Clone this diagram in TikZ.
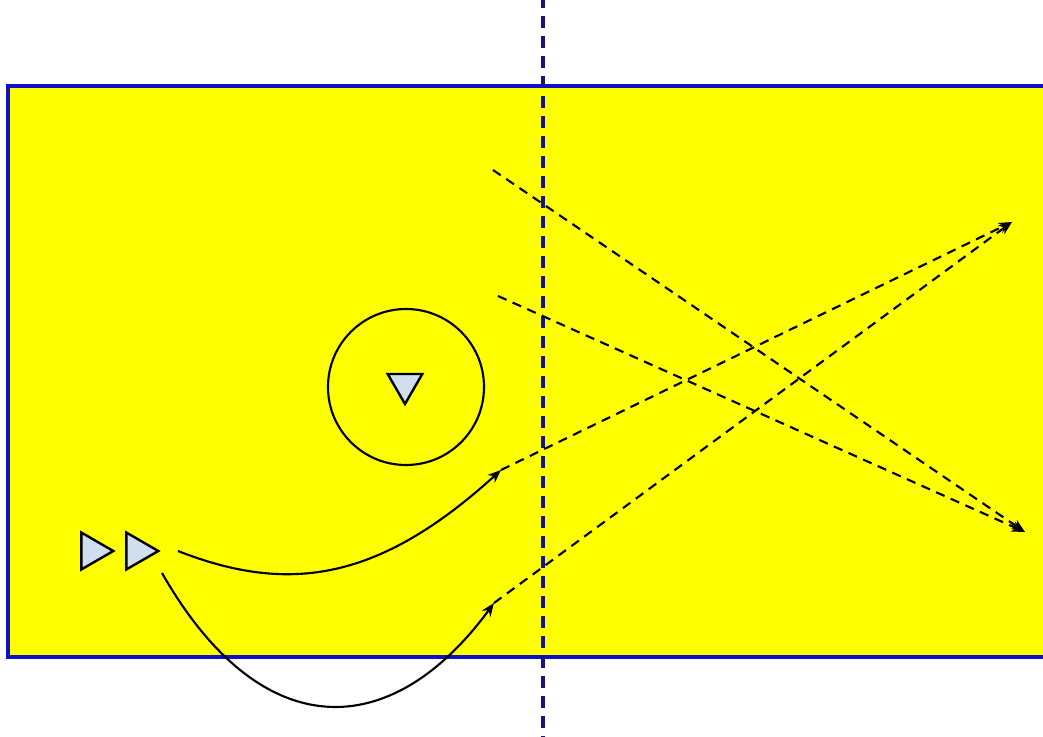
\documentclass[tikz,border=0pt]{standalone}
\usetikzlibrary{shapes.geometric,arrows.meta}
\definecolor{fieldyellow}{RGB}{255,255,0}
\definecolor{fieldblue}{RGB}{16,16,200}
\definecolor{navyline}{RGB}{20,20,130}
\definecolor{tribluefill}{RGB}{208,222,238}
\tikzset{
  player/.style={regular polygon, regular polygon sides=3, draw=black, line width=1.8pt,
    fill=tribluefill, minimum size=32pt, inner sep=0pt},
  run/.style={draw=black, line width=1.6pt, -{Stealth[length=10pt,width=8pt]}},
  pass/.style={draw=black, line width=1.6pt, dash pattern=on 7pt off 5pt, -{Stealth[length=10pt,width=8pt]}},
}
\begin{document}
\begin{tikzpicture}[x=0.75pt,y=-0.75pt]
\clip (0,0) rectangle (1043,736);
\useasboundingbox (0,0) rectangle (1043,736);
\fill[white] (0,0) rectangle (1043,736);
% field
\draw[fill=fieldyellow, draw=fieldblue, line width=3pt] (8,86) rectangle (1070,657);
% centre line
\draw[navyline, line width=2.6pt, dash pattern=on 9pt off 6pt] (543,-4) -- (543,740);
% players
\node[player, shape border rotate=-90] (p1) at (92,551) {};
\node[player, shape border rotate=-90] (p2) at (137,551) {};
\node[player, shape border rotate=180, minimum size=30pt] (p3) at (405,384) {};
\node[draw=black, line width=1.6pt, circle, minimum size=117pt, inner sep=0pt] (zone) at (406,387) {};
% coordinates
\coordinate (s1) at (178,551);
\coordinate (s2) at (162,573);
\coordinate (e1) at (501,470);
\coordinate (e2) at (494,603);
\coordinate (t1) at (1012,222);
\coordinate (t2) at (1025,532);
\coordinate (d1) at (493,170);
\coordinate (d2) at (498,296);
% runs
\draw[run] (s1) .. controls (290,595) and (380,580) .. (e1);
\draw[run] (s2) .. controls (260,745) and (390,745) .. (e2);
% passes
\draw[pass] (e1) -- (t1);
\draw[pass] (e2) -- (t1);
\draw[pass] (d1) -- (t2);
\draw[pass] (d2) -- (t2);
\end{tikzpicture}
\end{document}
